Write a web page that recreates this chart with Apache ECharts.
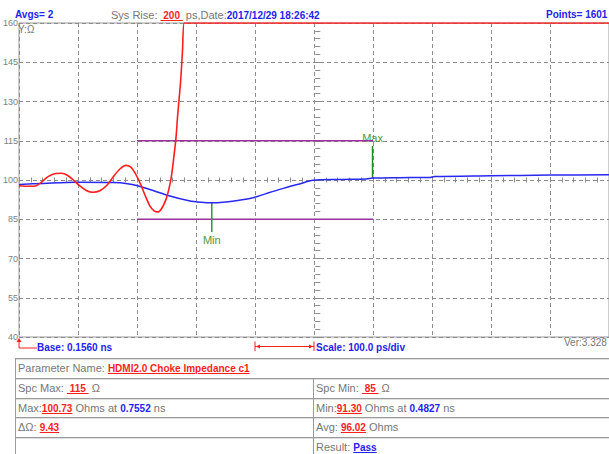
<!DOCTYPE html>
<html><head><meta charset="utf-8">
<script src="https://cdn.jsdelivr.net/npm/echarts@6/dist/echarts.min.js"></script>
<style>
html,body{margin:0;padding:0;background:#fff;}
#wrap{position:relative;width:609px;height:454px;overflow:hidden;font-family:"Liberation Sans",Arial,sans-serif;}
#c{position:absolute;left:0;top:0;width:609px;height:454px;}
.t{position:absolute;white-space:pre;line-height:14px;height:14px;color:#777;font-size:11px;}
.b{font-weight:bold;font-size:10px;}
.blue{color:#2323ee;}
.red{color:#ff1e1e;}
.u{text-decoration:underline;}
.hl{position:absolute;left:15px;width:594px;height:1px;background:#9a9a9a;border-bottom:1px solid #e0e0e0;}
.vl{position:absolute;width:1px;background:#9a9a9a;}
</style></head>
<body>
<div id="wrap">
<div id="c"></div>
<div class="t b blue" style="left:15px;top:8px;">Avgs= 2</div>
<div class="t" style="left:111px;top:8px;">Sys Rise: <span class="b red u"> 200 </span> ps,Date:<span class="b blue">2017/12/29 18:26:42</span></div>
<div class="t b blue" style="left:546px;top:8px;">Points= 1601</div>
<div class="t" style="left:18px;top:23px;font-size:10px;">Y:Ω</div>
<div class="t b blue" style="left:37px;top:341px;">Base: 0.1560 ns</div>
<div class="t b blue" style="left:316px;top:341px;">Scale: 100.0 ps/div</div>
<div class="t" style="left:564px;top:336px;font-size:10px;">Ver:3.328</div>

<div class="hl" style="top:358px;"></div>
<div class="hl" style="top:378px;"></div>
<div class="hl" style="top:398px;"></div>
<div class="hl" style="top:417px;"></div>
<div class="hl" style="top:437px;"></div>
<div class="vl" style="left:15px;top:358px;height:96px;"></div>
<div class="vl" style="left:313px;top:378px;height:76px;"></div>

<div class="t" style="left:18px;top:361px;">Parameter Name: <span class="b red u">HDMI2.0 Choke Impedance c1</span></div>
<div class="t" style="left:18px;top:381px;">Spc Max: <span class="b red u"> 115 </span> Ω</div>
<div class="t" style="left:316px;top:381px;">Spc Min: <span class="b red u"> 85 </span> Ω</div>
<div class="t" style="left:18px;top:401px;">Max:<span class="b red u">100.73</span> Ohms at <span class="b blue">0.7552</span> ns</div>
<div class="t" style="left:316px;top:401px;">Min:<span class="b red u">91.30</span> Ohms at <span class="b blue">0.4827</span> ns</div>
<div class="t" style="left:18px;top:420px;">ΔΩ: <span class="b red u">9.43</span></div>
<div class="t" style="left:316px;top:420px;">Avg: <span class="b red u">96.02</span> Ohms</div>
<div class="t" style="left:316px;top:440px;">Result: <span class="b blue u">Pass</span></div>
</div>
<script>
// ---- data (time in ps from base 0.1560 ns, impedance in ohms) ----
const baseNs = 0.156;
const psPerDiv = 100;
const xDivs = 10;
const yMin = 40, yMax = 160, yStep = 15;

const redPs  = [0, 17, 28, 38, 50, 62, 72, 82, 92, 102, 114, 125, 137, 149, 160, 171, 181, 189, 197, 206, 214, 222, 229, 236, 242, 249, 254, 258, 262, 266, 269, 274, 277, 280, 285, 300, 1000];
const redOhm = [97.8, 97.6, 97.7, 99.2, 101.4, 102.5, 102.6, 101.8, 100.0, 97.9, 96.0, 95.3, 95.9, 98.0, 101.3, 104.2, 105.6, 105.0, 102.5, 98.4, 94.0, 90.0, 88.2, 87.8, 89.2, 92.5, 96.5, 101, 108, 116, 125, 138, 149, 160, 160, 160, 160];

const bluePs  = [0, 42, 97, 159, 184, 201, 226, 254, 288, 309, 326.7, 346, 365, 393, 420, 448, 477, 498, 544, 589, 599.2, 644, 697, 704, 800, 900, 1000];
const blueOhm = [98.3, 98.7, 99.1, 99.0, 98.6, 97.8, 96.1, 94.0, 92.1, 91.5, 91.3, 91.5, 92.0, 93.0, 94.9, 96.8, 98.6, 99.9, 100.2, 100.4, 100.73, 100.9, 101.0, 101.3, 101.6, 101.9, 102.0];

const spcMax = 115, spcMin = 85;
const spcStartPs = 200, spcEndPs = 600;
const minOhm = 91.30, minAtNs = 0.4827;
const maxOhm = 100.73, maxAtNs = 0.7552;
const minMarkEnd = 80.1, maxMarkEnd = 113;

const toPs = ns => Math.round((ns - baseNs) * 1000 * 10) / 10;
const zip = (a, b) => a.map((v, i) => [v, b[i]]);

const gridColor = '#8c8c8c';
const chart = echarts.init(document.getElementById('c'), null, {renderer: 'svg', width: 609, height: 454});

const centerAxisX = (off) => ({
  type: 'value', gridIndex: 0, position: 'bottom', offset: off,
  min: 0, max: psPerDiv * xDivs, interval: psPerDiv,
  axisLine: {show: false}, axisLabel: {show: false}, splitLine: {show: false},
  axisTick: {show: true, inside: false, length: 5, lineStyle: {color: gridColor}},
  minorTick: {show: true, splitNumber: 5, length: 5, lineStyle: {color: gridColor}}
});
const centerAxisY = (off) => ({
  type: 'value', gridIndex: 0, position: 'left', offset: off,
  min: yMin, max: yMax, interval: yStep,
  axisLine: {show: false}, axisLabel: {show: false}, splitLine: {show: false},
  axisTick: {show: true, inside: false, length: 5, lineStyle: {color: gridColor}},
  minorTick: {show: true, splitNumber: 5, length: 5, lineStyle: {color: gridColor}}
});

const gridLeft = 15, gridTop = 23, gridW = 597.5, gridH = 314;
const markLabel = {color: '#1f7f1f', fontSize: 11, fontFamily: 'Liberation Sans', textBorderColor: 'rgba(240,230,140,0.35)', textBorderWidth: 1};

chart.setOption({
  animation: false,
  grid: {left: gridLeft, top: gridTop, width: gridW, height: gridH, show: true, borderColor: '#9a9a9a', borderWidth: 1, backgroundColor: 'transparent'},
  xAxis: [
    {type: 'value', min: 0, max: psPerDiv * xDivs, interval: psPerDiv,
     axisLine: {show: false}, axisTick: {show: false}, axisLabel: {show: false},
     splitLine: {show: true, lineStyle: {type: [4, 3], color: gridColor, width: 1}}},
    centerAxisX(-(gridH / 2) - 2.5)
  ],
  yAxis: [
    {type: 'value', min: yMin, max: yMax, interval: yStep,
     axisLine: {show: false}, axisTick: {show: false},
     axisLabel: {color: '#808080', fontSize: 9, margin: 1, fontFamily: 'Liberation Sans'},
     splitLine: {show: true, lineStyle: {type: [4, 3], color: gridColor, width: 1}}},
    centerAxisY(-(gridW / 2) - 2.5)
  ],
  series: [
    {type: 'line', name: 'SpcMax', data: [[spcStartPs, spcMax], [spcEndPs, spcMax]], symbol: 'none', lineStyle: {color: '#993399', width: 1.5}, silent: true},
    {type: 'line', name: 'SpcMin', data: [[spcStartPs, spcMin], [spcEndPs, spcMin]], symbol: 'none', lineStyle: {color: '#993399', width: 1.5}, silent: true},
    {type: 'line', name: 'MinMark', data: [[toPs(minAtNs), minOhm], [toPs(minAtNs), minMarkEnd]], symbol: 'none', lineStyle: {color: '#2e9a2e', width: 1.5}},
    {type: 'line', name: 'MaxMark', data: [[toPs(maxAtNs), maxOhm], [toPs(maxAtNs), maxMarkEnd]], symbol: 'none', lineStyle: {color: '#1f8f1f', width: 1.5}},
    {type: 'scatter', name: 'MinLabel', data: [[toPs(minAtNs), minMarkEnd]], symbolSize: 1, itemStyle: {color: 'rgba(0,0,0,0)'},
     label: Object.assign({show: true, position: 'bottom', distance: 2, formatter: 'Min'}, markLabel)},
    {type: 'scatter', name: 'MaxLabel', data: [[toPs(maxAtNs), maxMarkEnd]], symbolSize: 1, itemStyle: {color: 'rgba(0,0,0,0)'},
     label: Object.assign({show: true, position: 'top', distance: 2, formatter: 'Max'}, markLabel)},
    {type: 'line', name: 'Blue', data: zip(bluePs, blueOhm), symbol: 'none', smooth: 0.3, lineStyle: {color: '#2828f0', width: 1.5}},
    {type: 'line', name: 'Red', data: zip(redPs, redOhm), symbol: 'none', smooth: 0.3, clip: true, lineStyle: {color: '#ff1e1e', width: 1.6}}
  ]
});

// bracket decorations below the plot, placed through the axis scale
const px = v => chart.convertToPixel({xAxisIndex: 0}, v);
const yB = chart.convertToPixel({yAxisIndex: 0}, yMin);
const x0 = px(0), x4 = px(4 * psPerDiv), x5 = px(5 * psPerDiv);
const red = '#ff1e1e';
const ym = yB + 9.5;
chart.setOption({
  graphic: [
    {type: 'polyline', shape: {points: [[x0, yB + 2], [x0, yB + 11], [x0 + 18, yB + 11]]}, style: {stroke: red, lineWidth: 1, fill: null}},
    {type: 'polygon', shape: {points: [[x0, yB + 1], [x0 - 2.5, yB + 5], [x0 + 2.5, yB + 5]]}, style: {fill: red}},
    {type: 'line', shape: {x1: x4, y1: ym, x2: x5, y2: ym}, style: {stroke: red, lineWidth: 1}},
    {type: 'line', shape: {x1: x4, y1: yB + 4.5, x2: x4, y2: yB + 14}, style: {stroke: red, lineWidth: 1}},
    {type: 'line', shape: {x1: x5, y1: yB + 4.5, x2: x5, y2: yB + 14}, style: {stroke: red, lineWidth: 1}},
    {type: 'polygon', shape: {points: [[x4 + 1, ym], [x4 + 5, ym - 2], [x4 + 5, ym + 2]]}, style: {fill: red}},
    {type: 'polygon', shape: {points: [[x5 - 1, ym], [x5 - 5, ym - 2], [x5 - 5, ym + 2]]}, style: {fill: red}}
  ]
});
</script>
</body></html>
